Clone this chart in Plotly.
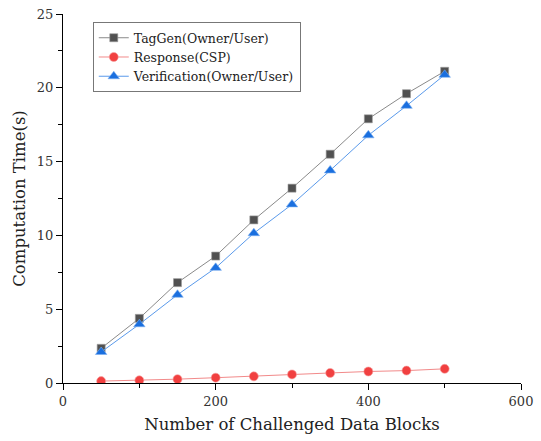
import plotly.graph_objects as go

blocks = [50, 100, 150, 200, 250, 300, 350, 400, 450, 500]
taggen = [2.35, 4.38, 6.8, 8.6, 11.05, 13.2, 15.5, 17.9, 19.6, 21.12]
response = [0.13, 0.18, 0.26, 0.36, 0.45, 0.58, 0.68, 0.78, 0.84, 0.96]
verification = [2.1, 3.98, 5.98, 7.8, 10.15, 12.1, 14.4, 16.78, 18.78, 20.88]

FONT = "DejaVu Serif"

fig = go.Figure()
fig.add_trace(go.Scatter(
    x=blocks, y=taggen, mode="lines+markers", name="TagGen(Owner/User)",
    line=dict(color="#8a8a8a", width=1),
    marker=dict(symbol="square", size=8, color="#515151",
                line=dict(color="#9a9a9a", width=0.6)),
))
fig.add_trace(go.Scatter(
    x=blocks, y=response, mode="lines+markers", name="Response(CSP)",
    line=dict(color="#f28a8a", width=1),
    marker=dict(symbol="circle", size=9, color="#f14040",
                line=dict(color="#f7a0a0", width=0.6)),
))
fig.add_trace(go.Scatter(
    x=blocks, y=verification, mode="lines+markers", name="Verification(Owner/User)",
    line=dict(color="#5a9aeb", width=1),
    marker=dict(symbol="triangle-up", size=10, color="#1a6fdf",
                line=dict(color="#7aaef0", width=0.6)),
))

axis_common = dict(
    showline=True, linecolor="black", linewidth=1.2,
    ticks="outside", ticklen=6, tickwidth=1.2, tickcolor="black",
    showgrid=False, zeroline=False, automargin=False,
    tickfont=dict(family=FONT, size=13, color="#333333"),
)

fig.update_layout(
    width=541, height=441,
    margin=dict(l=63, r=20, t=14, b=58),
    paper_bgcolor="white", plot_bgcolor="white",
    font=dict(family=FONT, color="#222222"),
    xaxis=dict(
        range=[0, 600], tickvals=[0, 200, 400, 600],
        minor=dict(tickvals=[100, 300, 500], ticklen=4, tickwidth=1.2,
                   tickcolor="black", ticks="outside"),
        title=dict(text="Number of Challenged Data Blocks",
                   font=dict(family=FONT, size=16.5, color="#222222"), standoff=10),
        **axis_common,
    ),
    yaxis=dict(
        range=[0, 25], tickvals=[0, 5, 10, 15, 20, 25],
        minor=dict(tickvals=[2.5, 7.5, 12.5, 17.5, 22.5], ticklen=4, tickwidth=1.2,
                   tickcolor="black", ticks="outside"),
        title=dict(text="Computation Time(s)",
                   font=dict(family=FONT, size=16.5, color="#222222"), standoff=6),
        **axis_common,
    ),
    legend=dict(
        x=0.065, y=0.978, xanchor="left", yanchor="top",
        bordercolor="#777777", borderwidth=1, bgcolor="white",
        font=dict(family=FONT, size=12.5, color="#222222"),
        itemwidth=30, tracegroupgap=0,
    ),
    showlegend=True,
)

fig.write_html("out.html")
